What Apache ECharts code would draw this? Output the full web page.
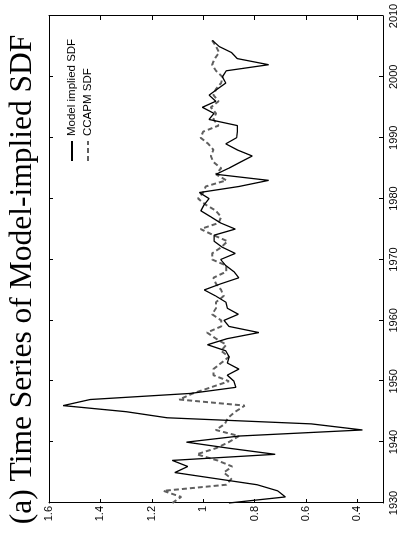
<!DOCTYPE html>
<html>
<head>
<meta charset="utf-8">
<script src="https://cdn.jsdelivr.net/npm/echarts@6/dist/echarts.min.js"></script>
<style>
html,body{margin:0;padding:0;background:#fff;overflow:hidden;width:404px;height:559px;}
#wrap{position:absolute;left:0;top:0;width:559px;height:404px;transform-origin:0 0;transform:translateY(559px) rotate(-90deg);}
#chart{width:559px;height:404px;}
</style>
</head>
<body>
<div id="wrap"><div id="chart"></div></div>
<script>
var years = [1930,1931,1932,1933,1934,1935,1936,1937,1938,1939,1940,1941,1942,1943,1944,1945,1946,1947,1948,1949,
1950,1951,1952,1953,1954,1955,1956,1957,1958,1959,1960,1961,1962,1963,1964,1965,1966,1967,1968,1969,
1970,1971,1972,1973,1974,1975,1976,1977,1978,1979,1980,1981,1982,1983,1984,1985,1986,1987,1988,1989,
1990,1991,1992,1993,1994,1995,1996,1997,1998,1999,2000,2001,2002,2003,2004,2005,2006];
var modelSDF = [0.90,0.68,0.71,0.79,0.95,1.11,1.06,1.12,0.72,0.90,1.065,0.86,0.38,0.58,1.14,1.30,1.545,1.44,1.05,0.873,
0.88,0.906,0.861,0.906,0.899,0.912,0.983,0.906,0.783,0.899,0.919,0.863,0.906,0.912,0.951,0.996,0.932,0.861,0.880,0.912,
0.932,0.875,0.925,0.957,0.957,0.875,0.932,0.970,1.009,0.996,0.977,1.015,0.86,0.745,0.95,0.90,0.855,0.809,0.867,0.912,
0.87,0.867,0.867,0.977,0.958,1.003,0.951,0.977,0.945,0.912,0.925,0.91,0.745,0.867,0.89,0.938,0.964];
var ccapmSDF = [1.12,1.086,1.155,0.91,0.89,0.92,0.887,0.945,1.025,0.95,0.90,0.861,0.951,0.915,0.903,0.875,0.838,1.093,1.04,0.97,
0.90,0.96,0.96,0.93,0.90,0.93,0.91,0.95,0.985,0.93,0.93,0.965,0.95,0.95,0.92,0.93,0.95,0.96,0.91,0.91,
0.965,0.965,0.93,0.905,0.96,1.01,0.94,0.93,0.95,0.99,1.02,1.00,0.99,0.91,0.95,0.93,0.96,0.97,0.96,0.98,
1.01,1.00,0.94,0.96,0.95,0.97,0.94,0.96,0.95,0.93,0.925,0.95,0.965,0.955,0.938,0.95,0.965];
var yearTicks = [1930,1940,1950,1960,1970,1980,1990,2000,2010];
var sdfTicks = [0.4,0.6,0.8,1,1.2,1.4,1.6];
var seriesNames = ['Model implied SDF','CCAPM SDF'];
var titleText = '(a) Time Series of Model-implied SDF';

function pairs(vals){ return years.map(function(y,i){ return [y, vals[i]]; }); }

var chart = echarts.init(document.getElementById('chart'), null, {renderer:'canvas'});
var lab = {fontFamily:'Liberation Sans', fontSize:11, color:'#000'};
var xBase = {type:'value', min:1930, max:2010, interval:10,
  axisLine:{show:true, lineStyle:{color:'#000', width:1}},
  axisTick:{show:true, inside:true, length:4, lineStyle:{color:'#000'}},
  splitLine:{show:false}};
var yBase = {type:'value', min:0.3, max:1.6,
  axisLine:{show:true, lineStyle:{color:'#000', width:1}},
  axisTick:{show:true, inside:true, length:4, customValues:sdfTicks, lineStyle:{color:'#000'}},
  splitLine:{show:false}};
chart.setOption({
  animation:false,
  backgroundColor:'#fff',
  title:{text:titleText, left:'center', top:7, padding:0,
    textStyle:{fontFamily:'Liberation Serif', fontSize:31.5, fontWeight:'normal', color:'#000'}},
  legend:{data:seriesNames, orient:'vertical', left:397, top:66, padding:0,
    itemWidth:20, itemHeight:12, itemGap:4,
    itemStyle:{opacity:0},
    textStyle:{fontFamily:'Liberation Sans', fontSize:11.5, lineHeight:12, color:'#000'}},
  grid:{left:56, right:16, top:49, bottom:21, containLabel:false},
  xAxis:[
    Object.assign({}, xBase, {position:'bottom',
      axisLabel:Object.assign({show:true, margin:5, formatter:function(v){return String(v);}}, lab)}),
    Object.assign({}, xBase, {position:'top', axisLabel:{show:false}})
  ],
  yAxis:[
    Object.assign({}, yBase, {position:'left',
      axisLabel:Object.assign({show:true, margin:3, customValues:sdfTicks, formatter:function(v){return String(+v.toFixed(1));}}, lab)}),
    Object.assign({}, yBase, {position:'right', axisLabel:{show:false}})
  ],
  series:[
    {name:seriesNames[0], type:'line', data:pairs(modelSDF), symbol:'none', showSymbol:false,
      lineStyle:{color:'#000', width:1.3}, itemStyle:{color:'#000'}, z:3},
    {name:seriesNames[1], type:'line', data:pairs(ccapmSDF), symbol:'none', showSymbol:false,
      lineStyle:{color:'#5f5f5f', width:2, type:[5,3]}, itemStyle:{color:'#5f5f5f'}, z:2}
  ]
});
</script>
</body>
</html>
